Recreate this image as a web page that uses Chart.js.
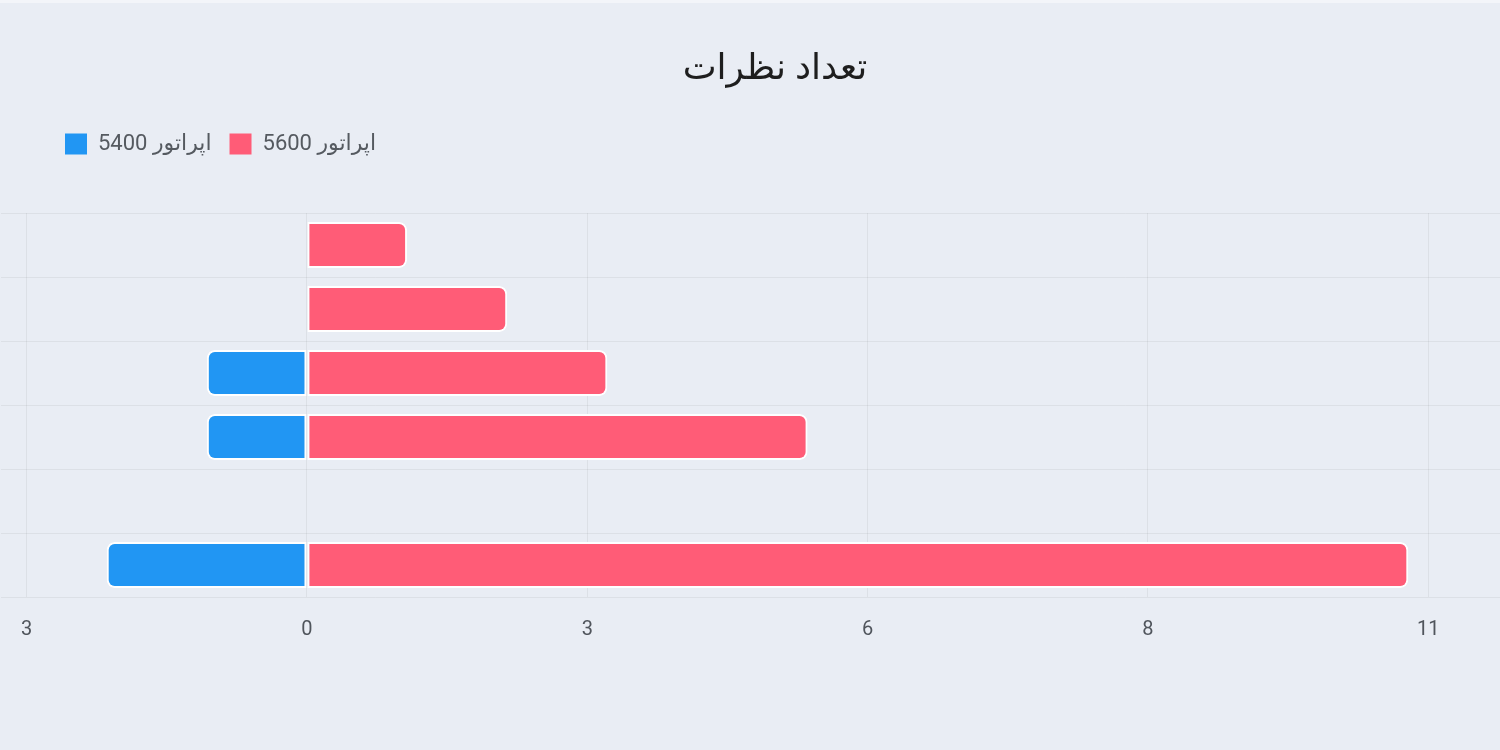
<!DOCTYPE html>
<html lang="fa">
<head>
    <meta charset="UTF-8">
    <title>تعداد نظرات</title>
    <script src="https://cdn.jsdelivr.net/npm/chart.js"></script>
    <style>
        html, body { margin: 0; padding: 0; }
        body {
            width: 1500px; height: 750px; overflow: hidden;
            background: linear-gradient(#f3f5f9 0 3px, #e9edf4 3px);
        }
        .chart-box { position: relative; width: 1500px; height: 750px; }
    </style>
</head>
<body>
    <div class="chart-box">
        <canvas id="commentsChart"></canvas>
    </div>
    <script>
        // rows top to bottom (axis labels are not shown in the chart)
        const categories = ['1', '2', '3', '4', '5', '6'];
        const op5600 = [1, 2, 3, 5, 0, 11];
        const op5400 = [0, 0, -1, -1, 0, -2];

        const tickValues = [-2.8, 0, 2.8, 5.6, 8.4, 11.2];
        const tickLabels = ['3', '0', '3', '6', '8', '11'];

        Chart.defaults.font.family = "Roboto, 'DejaVu Sans', sans-serif";

        // legend needs extra room below it, and title/legend sit a bit to the right
        const nudgeBoxes = {
            id: 'nudgeBoxes',
            afterInit(chart) {
                const fit = chart.legend.fit;
                chart.legend.fit = function () {
                    fit.call(this);
                    this.height += 48;
                };
            },
            afterLayout(chart) {
                chart.legend.left += 47;
                chart.legend.right += 47;
                chart.titleBlock.left += 25;
                chart.titleBlock.right += 25;
            }
        };

        const ctx = document.getElementById('commentsChart').getContext('2d');
        new Chart(ctx, {
            type: 'bar',
            data: {
                labels: categories,
                datasets: [
                    {
                        label: 'اپراتور 5400',
                        data: op5400,
                        backgroundColor: '#2196f3',
                        borderColor: '#ffffff',
                        borderWidth: 2,
                        borderSkipped: false,
                        borderRadius: { topLeft: 8, bottomLeft: 8, topRight: 0, bottomRight: 0 }
                    },
                    {
                        label: 'اپراتور 5600',
                        data: op5600,
                        backgroundColor: '#ff5c77',
                        borderColor: '#ffffff',
                        borderWidth: 2,
                        borderSkipped: false,
                        borderRadius: { topLeft: 0, bottomLeft: 0, topRight: 8, bottomRight: 8 }
                    }
                ]
            },
            plugins: [nudgeBoxes],
            options: {
                indexAxis: 'y',
                responsive: true,
                maintainAspectRatio: false,
                animation: false,
                layout: { padding: { top: 0, left: 0, right: 0, bottom: 87 } },
                plugins: {
                    title: {
                        display: true,
                        text: 'تعداد نظرات',
                        color: '#1e1e1e',
                        font: { size: 36, weight: 'normal' },
                        padding: { top: 48.4, bottom: 23.4 }
                    },
                    legend: {
                        position: 'top',
                        align: 'start',
                        textDirection: 'rtl',
                        labels: {
                            boxWidth: 22,
                            boxHeight: 21,
                            padding: 18,
                            color: '#555a60',
                            font: { size: 22 },
                            generateLabels: chart =>
                                Chart.defaults.plugins.legend.labels.generateLabels(chart)
                                    .map(item => ({ ...item, lineWidth: 0 }))
                        }
                    },
                    tooltip: { enabled: false }
                },
                scales: {
                    x: {
                        stacked: true,
                        min: -3.054,
                        max: 11.916,
                        afterBuildTicks: scale => {
                            scale.ticks = tickValues.map(v => ({ value: v }));
                        },
                        border: { display: false },
                        grid: { color: 'rgba(0,0,0,0.055)', drawTicks: false },
                        ticks: {
                            autoSkip: false,
                            maxRotation: 0,
                            padding: 21,
                            color: '#50555c',
                            font: { size: 20 },
                            callback: (value, index) => tickLabels[index]
                        }
                    },
                    y: {
                        stacked: true,
                        border: { display: false },
                        grid: { color: 'rgba(0,0,0,0.055)', drawTicks: false },
                        ticks: { display: false }
                    }
                }
            }
        });
    </script>
</body>
</html>
